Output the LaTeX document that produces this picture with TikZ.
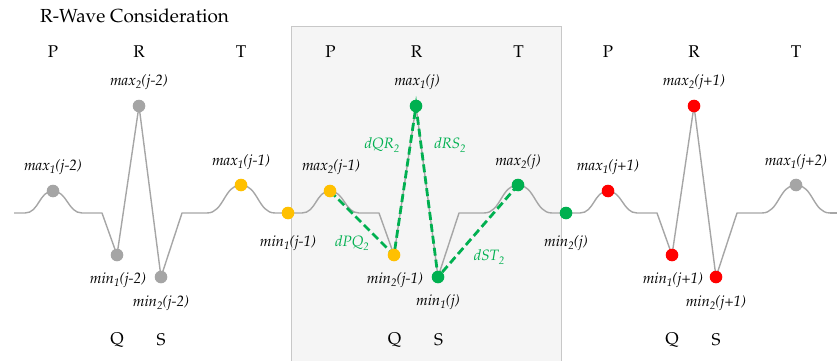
\documentclass[tikz,border=0pt]{standalone}
\usepackage[T1]{fontenc}
\usepackage{mathpazo}
\definecolor{wgray}{HTML}{A6A6A6}
\definecolor{dotgray}{HTML}{A5A5A5}
\definecolor{dyellow}{HTML}{FFC000}
\definecolor{dgreen}{HTML}{00B050}
\definecolor{dred}{HTML}{FF0000}
\definecolor{boxfill}{HTML}{F5F5F5}
\definecolor{boxline}{HTML}{C8C8C8}
\newcommand{\sbs}[1]{\raisebox{-0.22em}{\fontsize{11}{12}\selectfont #1}}
\begin{document}
\begin{tikzpicture}[x=1pt,y=-1pt,
  wave/.style={draw=wgray, line width=1.4pt, line join=round},
  dot/.style={circle, inner sep=0pt, minimum size=12.6pt},
  lbl/.style={font=\fontsize{15}{18}\selectfont\itshape, inner sep=0pt},
  glbl/.style={lbl, text=dgreen},
  wlbl/.style={font=\fontsize{17}{20}\selectfont, inner sep=0pt},
  dline/.style={draw=dgreen, line width=2.8pt, dash pattern=on 8pt off 4pt}]
\useasboundingbox (0,0) rectangle (837,361);
% highlighted window
\fill[boxfill] (291,27) rectangle (561,362);
\draw[boxline, line width=1pt] (291,362) -- (291,27) -- (561,27) -- (561,362);
% title
\node[font=\fontsize{18.9}{22}\selectfont, inner sep=0pt, anchor=west] (title) at (40,16) {R-Wave Consideration};
% waveform
\draw[wave] (14,213) foreach \c in {139,416,694} {
  -- (\c-114,213) .. controls (\c-100,213) and (\c-100,191) .. (\c-86,191)
  .. controls (\c-72,191) and (\c-71,213) .. (\c-57,213)
  -- (\c-37,213) -- (\c-22,255) -- (\c,106) -- (\c+22,277) -- (\c+43,213)
  -- (\c+68,213) .. controls (\c+85,213) and (\c+85,185) .. (\c+102,185)
  .. controls (\c+119,185) and (\c+119,213) .. (\c+136,213) };
\draw[wave] (830,213) -- (837,213);
% point positions
\coordinate (pb1) at (330,191);
\coordinate (pb2) at (394,255);
\coordinate (pb3) at (416,106);
\coordinate (pb4) at (438,277);
\coordinate (pb5) at (518,185);
% dashed connectors
\draw[dline] (pb1) -- (pb2) -- (pb3) -- (pb4) -- (pb5);
% dots
\node[dot, fill=dotgray] (a1) at (53,191) {};
\node[dot, fill=dotgray] (a2) at (117,255) {};
\node[dot, fill=dotgray] (a3) at (139,106) {};
\node[dot, fill=dotgray] (a4) at (161,277) {};
\node[dot, fill=dyellow] (a5) at (241,185) {};
\node[dot, fill=dyellow] (a6) at (288,213) {};
\node[dot, fill=dyellow] (b1) at (pb1) {};
\node[dot, fill=dyellow] (b2) at (pb2) {};
\node[dot, fill=dgreen] (b3) at (pb3) {};
\node[dot, fill=dgreen] (b4) at (pb4) {};
\node[dot, fill=dgreen] (b5) at (pb5) {};
\node[dot, fill=dgreen] (b6) at (566,213) {};
\node[dot, fill=dred] (c1) at (608,191) {};
\node[dot, fill=dred] (c2) at (672,255) {};
\node[dot, fill=dred] (c3) at (694,106) {};
\node[dot, fill=dred] (c4) at (716,277) {};
\node[dot, fill=dotgray] (c5) at (796,185) {};
% connector labels
\node[glbl] (lqr) at (382,145) {dQR\sbs{2}};
\node[glbl] (lrs) at (450,145) {dRS\sbs{2}};
\node[glbl] (lpq) at (352,243) {dPQ\sbs{2}};
\node[glbl] (lst) at (489,257) {dST\sbs{2}};
% wave letters
\foreach \c/\k in {0/a,1/b,2/c} {
  \pgfmathsetmacro{\xr}{139+277.5*\c}
  \node[wlbl] (P\k) at (\xr-86,52) {P};
  \node[wlbl] (R\k) at (\xr,52) {R};
  \node[wlbl] (T\k) at (\xr+102,52) {T};
  \node[wlbl] (Q\k) at (\xr-22,340) {Q};
  \node[wlbl] (S\k) at (\xr+22,340) {S};
}
% point labels
\node[lbl] (la1) at (53,167) {max\sbs{1}(j-2)};
\node[lbl] (la2) at (118,280) {min\sbs{1}(j-2)};
\node[lbl] (la3) at (139,82) {max\sbs{2}(j-2)};
\node[lbl] (la4) at (161,303) {min\sbs{2}(j-2)};
\node[lbl] (la5) at (241,162) {max\sbs{1}(j-1)};
\node[lbl] (la6) at (288,243) {min\sbs{1}(j-1)};
\node[lbl] (lb1) at (331,167) {max\sbs{2}(j-1)};
\node[lbl] (lb2) at (395,280) {min\sbs{2}(j-1)};
\node[lbl] (lb3) at (417,82) {max\sbs{1}(j)};
\node[lbl] (lb4) at (438,302) {min\sbs{1}(j)};
\node[lbl] (lb5) at (518,162) {max\sbs{2}(j)};
\node[lbl] (lb6) at (566,243) {min\sbs{2}(j)};
\node[lbl] (lc1) at (608,167) {max\sbs{1}(j+1)};
\node[lbl] (lc2) at (673,280) {min\sbs{1}(j+1)};
\node[lbl] (lc3) at (694,82) {max\sbs{2}(j+1)};
\node[lbl] (lc4) at (716,303) {min\sbs{2}(j+1)};
\node[lbl] (lc5) at (796,162) {max\sbs{1}(j+2)};
\end{tikzpicture}
\end{document}
